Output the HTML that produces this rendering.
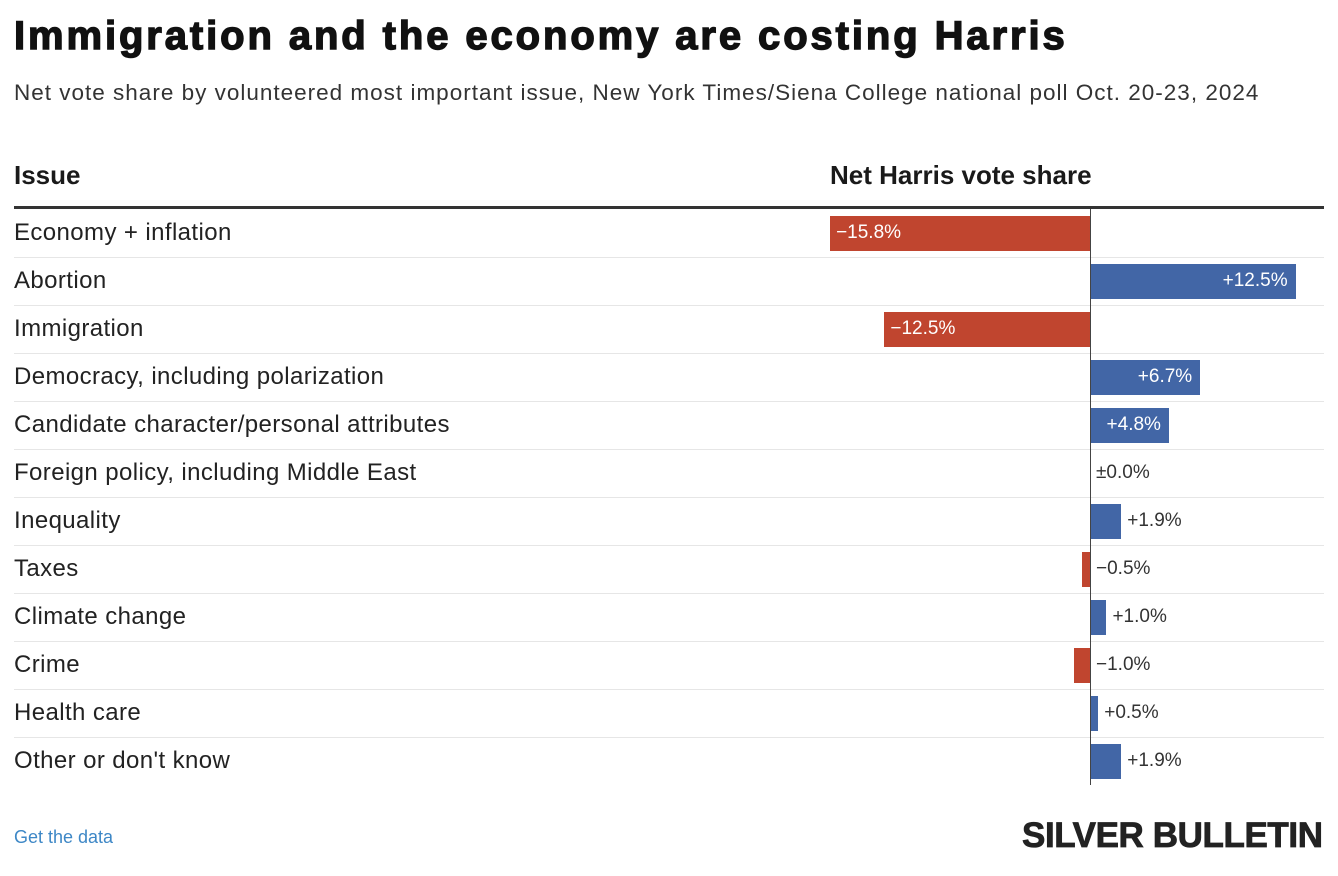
<!DOCTYPE html>
<html><head><meta charset="utf-8">
<style>
body{margin:0;width:1338px;height:876px;background:#fff;font-family:"Liberation Sans",sans-serif;color:#222;position:relative;overflow:hidden}
.abs{position:absolute;white-space:nowrap}
#title{left:14px;top:14px;font-size:40px;font-weight:900;letter-spacing:2.9px;color:#111;-webkit-text-stroke:1.4px #111}
#sub{left:14px;top:80px;font-size:22.5px;letter-spacing:1px;color:#333}
.hdr{top:160px;font-size:26px;font-weight:bold;color:#1a1a1a}
.lbl{left:14px;font-size:24px;letter-spacing:0.4px;color:#222}
.val{font-size:19px}
</style></head><body>
<div class="abs" id="title">Immigration and the economy are costing Harris</div>
<div class="abs" id="sub">Net vote share by volunteered most important issue, New York Times/Siena College national poll Oct. 20-23, 2024</div>
<div class="abs hdr" style="left:14px">Issue</div>
<div class="abs hdr" style="left:830px">Net Harris vote share</div>
<div class="abs" style="left:14px;top:206px;width:1310px;height:3px;background:#333"></div>
<div id="rows"></div>
<div class="abs" style="left:14px;top:827px;font-size:18px;color:#3d87c6">Get the data</div>
<div class="abs" style="left:1022px;top:816px;font-size:35px;font-weight:900;letter-spacing:-0.4px;color:#222;-webkit-text-stroke:0.8px #222">SILVER BULLETIN</div>
<script>
const issues=["Economy + inflation","Abortion","Immigration","Democracy, including polarization","Candidate character/personal attributes","Foreign policy, including Middle East","Inequality","Taxes","Climate change","Crime","Health care","Other or don't know"];
const values=[-15.8,12.5,-12.5,6.7,4.8,0.0,1.9,-0.5,1.0,-1.0,0.5,1.9];
const x0=1090,k=16.45,top0=209,rowH=48;
const xs=v=>x0+v*k;
const root=document.getElementById('rows');
function fmt(v){if(v===0)return "±0.0%";return (v>0?"+":"−")+Math.abs(v).toFixed(1)+"%";}
issues.forEach((name,i)=>{
  const t=top0+i*rowH;
  if(i>0){const s=document.createElement('div');s.className='abs';
  
  
  s.style.cssText=`left:14px;top:${t}px;width:1310px;height:1px;background:#e6e6e6`;root.appendChild(s);}
  const l=document.createElement('div');l.className='abs lbl';
  
  
  l.style.top=(t+10)+'px';l.textContent=name;root.appendChild(l);
  const v=values[i];const a=Math.min(xs(0),xs(v)),w=Math.abs(xs(v)-xs(0));
  const b=document.createElement('div');b.className='abs';
  
  
  b.style.cssText=`left:${a}px;top:${t+7}px;width:${w}px;height:35px;background:${v<0?'#c0452f':'#4266a6'}`;root.appendChild(b);
  const tx=document.createElement('div');tx.className='abs val';
  
  
  tx.textContent=fmt(v);tx.style.top=(t+13)+'px';
  if(w>60){tx.style.color='#fff';if(v<0)tx.style.left=(a+6)+'px';else{tx.style.left=(a+w-8)+'px';tx.style.transform='translateX(-100%)';}}
  else{tx.style.color='#333';tx.style.left=(x0+(v>0?w:0)+6)+'px';}
  root.appendChild(tx);
});
const ax=document.createElement('div');ax.className='abs';


ax.style.cssText=`left:${x0}px;top:209px;width:1px;height:576px;background:#444`;root.appendChild(ax);
</script>
</body></html>
